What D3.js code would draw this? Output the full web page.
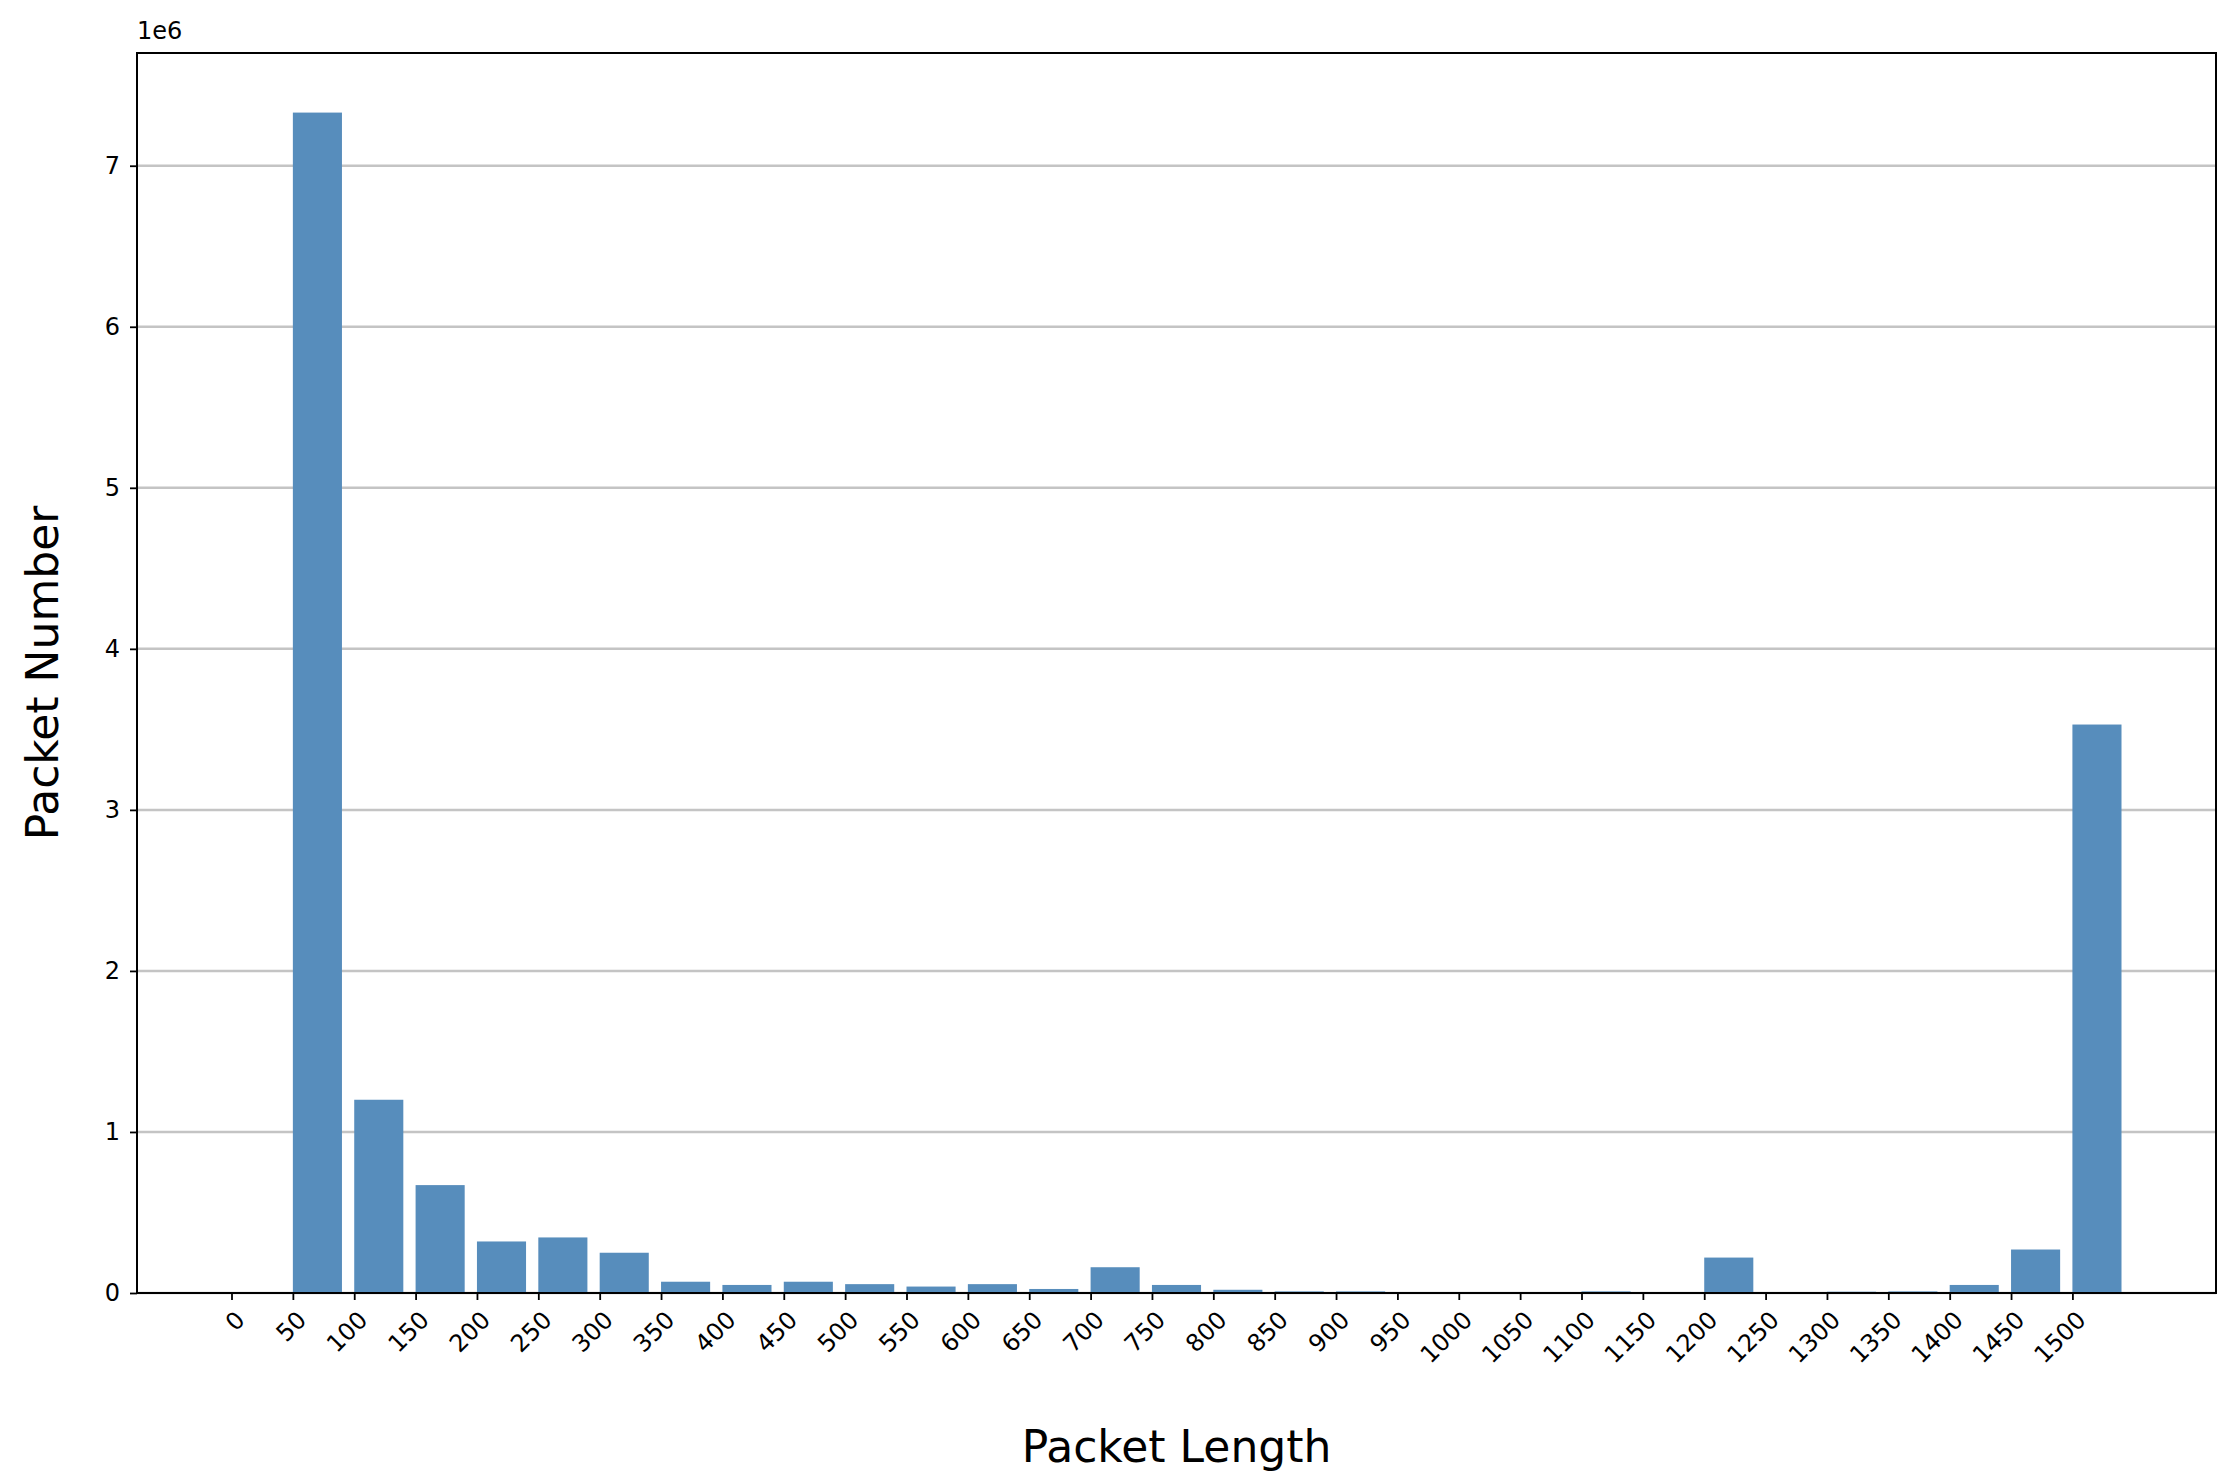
<!DOCTYPE html>
<html><head><meta charset="utf-8">
<script src="https://cdn.jsdelivr.net/npm/d3@7"></script>
<style>body{margin:0;background:#fff;} text{font-family:"DejaVu Sans",sans-serif;}</style>
</head><body><div id="chart"></div>
<script>
const categories = ["0","50","100","150","200","250","300","350","400","450","500","550","600","650","700","750","800","850","900","950","1000","1050","1100","1150","1200","1250","1300","1350","1400","1450","1500"];
const packetCounts = [0,7.33e6,1.20e6,0.67e6,0.32e6,0.345e6,0.25e6,0.07e6,0.05e6,0.07e6,0.055e6,0.04e6,0.055e6,0.025e6,0.16e6,0.05e6,0.02e6,0.01e6,0.01e6,0.005e6,0.005e6,0,0.01e6,0.005e6,0.22e6,0,0.008e6,0.01e6,0.05e6,0.27e6,3.53e6];
const yTicks = [0,1,2,3,4,5,6,7];

const width = 2229, height = 1482;
const margin = {top: 53, right: 13, bottom: 189, left: 137};
const svg = d3.select("#chart").append("svg").attr("width", width).attr("height", height);

const x = d3.scaleLinear().domain([-1.54, 32.34]).range([margin.left, width - margin.right]);
const y = d3.scaleLinear().domain([0, 7.7e6]).range([height - margin.bottom, margin.top]);

// gridlines
svg.append("g").selectAll("line").data(yTicks).join("line")
    .attr("x1", margin.left).attr("x2", width - margin.right)
    .attr("y1", d => y(d * 1e6)).attr("y2", d => y(d * 1e6))
    .attr("stroke", "#c4c4c4").attr("stroke-width", 2.5);

// bars
svg.append("g").selectAll("rect").data(packetCounts).join("rect")
    .attr("x", (d, i) => x(i)).attr("width", x(0.8) - x(0))
    .attr("y", d => y(d)).attr("height", d => y(0) - y(d))
    .attr("fill", "#578dbc");

// axes
const yAxis = svg.append("g").attr("transform", `translate(${margin.left},0)`)
    .call(d3.axisLeft(y).tickValues(yTicks.map(t => t * 1e6)).tickFormat(d => d / 1e6).tickSize(7).tickPadding(10));
const xAxis = svg.append("g").attr("transform", `translate(0,${height - margin.bottom})`)
    .call(d3.axisBottom(x).tickValues(d3.range(categories.length)).tickFormat(i => categories[i]).tickSize(7).tickPadding(4));
[xAxis, yAxis].forEach(g => {
    g.select(".domain").remove();
    g.selectAll("line").attr("stroke-width", 1.8);
    g.selectAll("text").style("font-size", "24px").attr("fill", "#000");
});
xAxis.selectAll("text").attr("text-anchor", "end").attr("dy", "0.35em")
    .attr("transform", "translate(0,14) rotate(-45)").attr("x", 0).attr("y", 12);

// frame
svg.append("rect").attr("x", margin.left).attr("y", margin.top)
    .attr("width", width - margin.left - margin.right).attr("height", height - margin.top - margin.bottom)
    .attr("fill", "none").attr("stroke", "#000").attr("stroke-width", 2);

svg.append("text").attr("x", margin.left).attr("y", margin.top - 14).style("font-size", "24px").text("1e6");
svg.append("text").attr("x", (margin.left + width - margin.right) / 2).attr("y", 1462)
    .attr("text-anchor", "middle").style("font-size", "44px").text("Packet Length");
svg.append("text").attr("transform", `translate(58,${(margin.top + height - margin.bottom) / 2}) rotate(-90)`)
    .attr("text-anchor", "middle").style("font-size", "44px").text("Packet Number");
</script></body></html>
